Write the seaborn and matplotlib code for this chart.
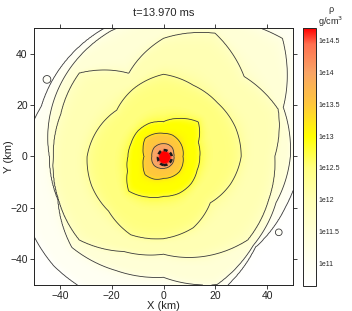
"""
Density slice with log-rho contours, rebuilt from contour radii read off the picture
"""
import numpy as np
import seaborn as sns
import matplotlib
matplotlib.use("Agg")
from matplotlib import pyplot as plt
from matplotlib.colors import LinearSegmentedColormap, Normalize

sns.set_theme(style="ticks")
plt.rcParams['font.family'] = ['Liberation Sans', 'DejaVu Sans']

"""
Data read from the picture
"""
TITLE = "t=13.970 ms"
TICKS = [-40, -20, 0, 20, 40]
CBAR_TICKS = [11, 11.5, 12, 12.5, 13, 13.5, 14, 14.5]
CBAR_LABELS = ["1e11", "1e11.5", "1e12", "1e12.5", "1e13", "1e13.5", "1e14", "1e14.5"]
RHO_MIN, RHO_MAX = 10.64, 14.7

# log10(rho) of each contour line, outermost first
LEVELS = [10.75, 11.25, 11.75, 12.25, 12.75, 13.25, 13.75, 14.25]
# directions (deg) where the contour radii (km) were read
ANGLES = [0, 22.5, 45, 67.5, 90, 112.5, 135, 157.5,
          180, 202.5, 225, 247.5, 270, 292.5, 315, 337.5]
r_c1 = [53, 58, 72, 62, 56, 55, 53, 51, 54, 58, 60, 60, 58, 57, 50, 51]
r_c2 = [49, 50, 65, 58, 54, 53, 50, 47, 44, 44, 50, 48, 47, 54, 49, 47]
r_c3 = [43, 48, 44, 52, 46, 35, 46, 43, 42.6, 44, 46, 40, 38, 42, 46, 44]
r_c4 = [30, 30, 29.5, 30, 32, 29, 25.5, 27.5, 29.5, 30, 30, 33, 32, 30, 25.5, 28]
r_c5 = [14, 14.5, 19, 16, 13.5, 14, 14, 13.5, 13.7, 15, 19, 17, 15.5, 15.5, 15, 14]
r_c6 = [7.5, 8, 8.5, 9, 9, 9.5, 10, 8.5, 7.5, 8.5, 10, 9.5, 8.5, 8.5, 8.5, 8]
r_c7 = [4.0, 4.2, 4.8, 5, 5, 5, 5, 4.7, 4.5, 4.8, 5, 4.8, 4.6, 4.5, 4.4, 4.2]
r_c8 = [3.2, 3.0, 2.7, 2.5, 2.5, 2.3, 2.1, 2.0, 2.0, 2.2, 2.6, 3.0, 3.3, 3.4, 3.4, 3.3]
RHO_CORE = 14.75
RHO_EDGE = 10.55

# small isolated blobs outside the outer contour: x, y, radius (km)
island_x = [-45, 44.5]
island_y = [30, -29.5]
island_r = [1.5, 1.3]

"""
Build the field from the radii
"""
radii = [r_c1, r_c2, r_c3, r_c4, r_c5, r_c6, r_c7, r_c8]
grid = np.linspace(-50, 50, 401)
X, Y = np.meshgrid(grid, grid)
rr = np.hypot(X, Y)
theta = np.degrees(np.arctan2(Y, X)) % 360

R = np.array([np.interp(theta, ANGLES, r, period=360) for r in radii])
# knots from the centre outwards: flat red core, then each contour, then the edge
knot_r = np.concatenate([np.zeros((1,) + rr.shape), 0.8 * R[-1:], R[::-1],
                         (R[0] + 12)[None]])
knot_v = [RHO_CORE, RHO_CORE] + LEVELS[::-1] + [RHO_EDGE]

Z = np.full(rr.shape, RHO_EDGE)
for k in range(len(knot_v) - 1):
    lo, hi = knot_r[k], knot_r[k + 1]
    m = (rr >= lo) & (rr < hi)
    t = (rr - lo) / (hi - lo)
    # keep each band fairly flat in colour, steep only near its contours
    t = 0.5 + 0.5 * (2 * t - 1) ** 3
    Z[m] = (knot_v[k] + t * (knot_v[k + 1] - knot_v[k]))[m]

for ix, iy, ir in zip(island_x, island_y, island_r):
    d = np.hypot(X - ix, Y - iy)
    Z = np.maximum(Z, LEVELS[0] + 0.15 * (1 - (d / ir) ** 2))

"""
Colour map: white -> yellow -> orange -> red
"""
stops = [(10.64, '#ffffff'), (11.0, '#fffff2'), (11.5, '#ffffd6'), (12.0, '#ffffb4'),
         (12.5, '#ffff80'), (13.0, '#ffff00'), (13.5, '#ffc83c'), (14.0, '#f9a466'),
         (14.45, '#ff7050'), (14.7, '#ff0000')]
cmap = LinearSegmentedColormap.from_list(
    "rho", [((v - RHO_MIN) / (RHO_MAX - RHO_MIN), c) for v, c in stops])
norm = Normalize(vmin=RHO_MIN, vmax=RHO_MAX)

"""
Plot
"""
W, H = 352, 311
fig = plt.figure(figsize=(W / 100, H / 100), dpi=100)
ax = fig.add_axes([34 / W, 1 - 285 / H, 259 / W, 257 / H])
cax = fig.add_axes([303 / W, 1 - 286 / H, 13 / W, 258 / H])

img = ax.imshow(Z, origin='lower', extent=[-50, 50, -50, 50], cmap=cmap, norm=norm,
                interpolation='bilinear', aspect='auto')
ax.contour(X, Y, Z, levels=LEVELS[:-1], colors='#3a3a3a', linewidths=0.6)
ax.contour(X, Y, Z, levels=LEVELS[-1:], colors='k', linewidths=1.8,
           linestyles=[(0, (1.6, 1.2))])

ax.set_xlim(-50, 50)
ax.set_ylim(-50, 50)
ax.set_xticks(TICKS)
ax.set_yticks(TICKS)
ax.tick_params(direction='out', length=3, width=0.6, labelsize=7.5, pad=1.5,
               top=True, right=True, colors='#222222')
for s in ax.spines.values():
    s.set_linewidth(0.7)
    s.set_color('#222222')
ax.set_xlabel("X (km)", fontsize=8, labelpad=0)
ax.set_ylabel("Y (km)", fontsize=8)
ax.yaxis.set_label_coords(-20 / 259, 0.5)

fig.text(163.5 / W, 1 - 13 / H, TITLE, ha='center', va='center', fontsize=8)

cb = fig.colorbar(img, cax=cax, ticks=CBAR_TICKS)
cb.ax.set_yticklabels(CBAR_LABELS)
cb.ax.tick_params(direction='in', length=2.5, width=0.5, labelsize=5, pad=2)
cb.outline.set_linewidth(0.7)
fig.text(331 / W, 1 - 10 / H, "ρ", ha='center', va='center', fontsize=6.5)
fig.text(331 / W, 1 - 22 / H, "g/cm$^3$", ha='center', va='center', fontsize=6.5)

fig.savefig("out.png", dpi=100)
